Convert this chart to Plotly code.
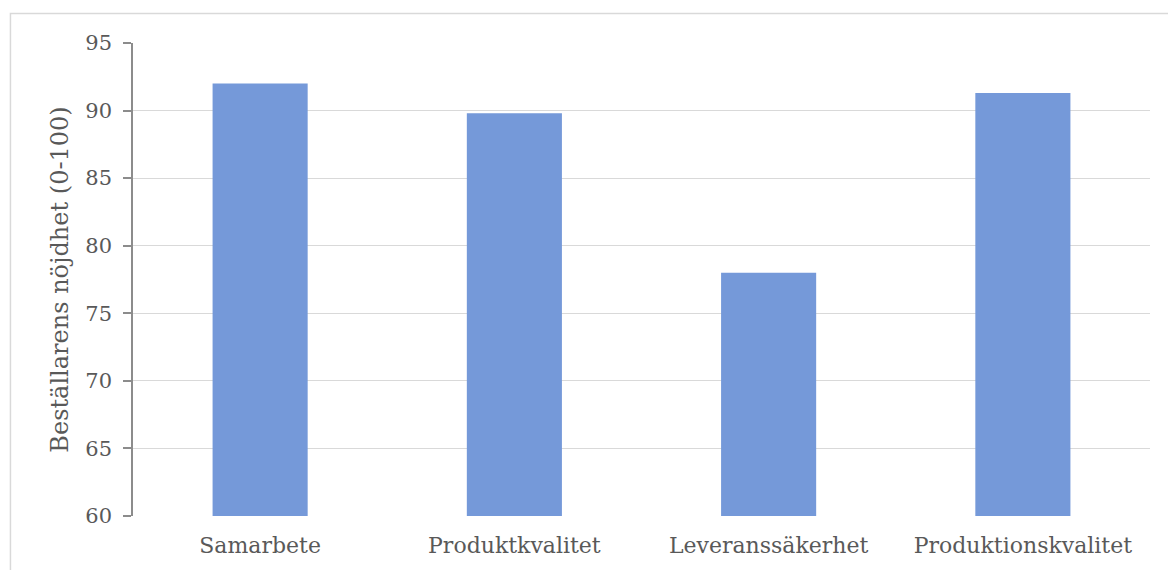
import plotly.graph_objects as go

# Beställarens nöjdhet per område
categories = ["Samarbete", "Produktkvalitet", "Leveranssäkerhet", "Produktionskvalitet"]
satisfaction = [92.0, 89.8, 78.0, 91.3]
y_ticks = [60, 65, 70, 75, 80, 85, 90, 95]

text_color = "#595959"
grid_color = "#d9d9d9"
font_family = "DejaVu Serif, Liberation Serif, serif"

fig = go.Figure(
    go.Bar(
        x=categories,
        y=satisfaction,
        marker=dict(color="#7599d9", line=dict(width=0)),
        hoverinfo="x+y",
    )
)

fig.update_layout(
    width=1168,
    height=570,
    margin=dict(l=133, r=18, t=43, b=54),
    paper_bgcolor="white",
    plot_bgcolor="white",
    bargap=0.626,
    showlegend=False,
    font=dict(family=font_family, color=text_color, size=21),
    xaxis=dict(
        showline=False,
        showgrid=False,
        ticks="",
        ticklabelstandoff=14,
        tickfont=dict(size=22, color=text_color),
    ),
    yaxis=dict(
        range=[60, 95],
        tickvals=y_ticks,
        showgrid=True,
        gridcolor=grid_color,
        gridwidth=1.4,
        showline=True,
        linecolor="#8c8c8c",
        linewidth=1.5,
        ticks="outside",
        ticklen=8,
        tickcolor="#8c8c8c",
        tickwidth=1.5,
        ticklabelstandoff=7,
        zeroline=False,
        tickfont=dict(size=21, color=text_color),
        title=dict(text="Beställarens nöjdhet (0-100)", font=dict(size=24, color=text_color), standoff=10),
    ),
    shapes=[
        dict(
            type="rect",
            xref="paper",
            yref="paper",
            x0=-0.1205,
            x1=1.2,
            y0=-0.3,
            y1=1.0624,
            line=dict(color=grid_color, width=1.5),
            fillcolor="rgba(0,0,0,0)",
            layer="below",
        )
    ],
)

fig.write_html("out.html")
